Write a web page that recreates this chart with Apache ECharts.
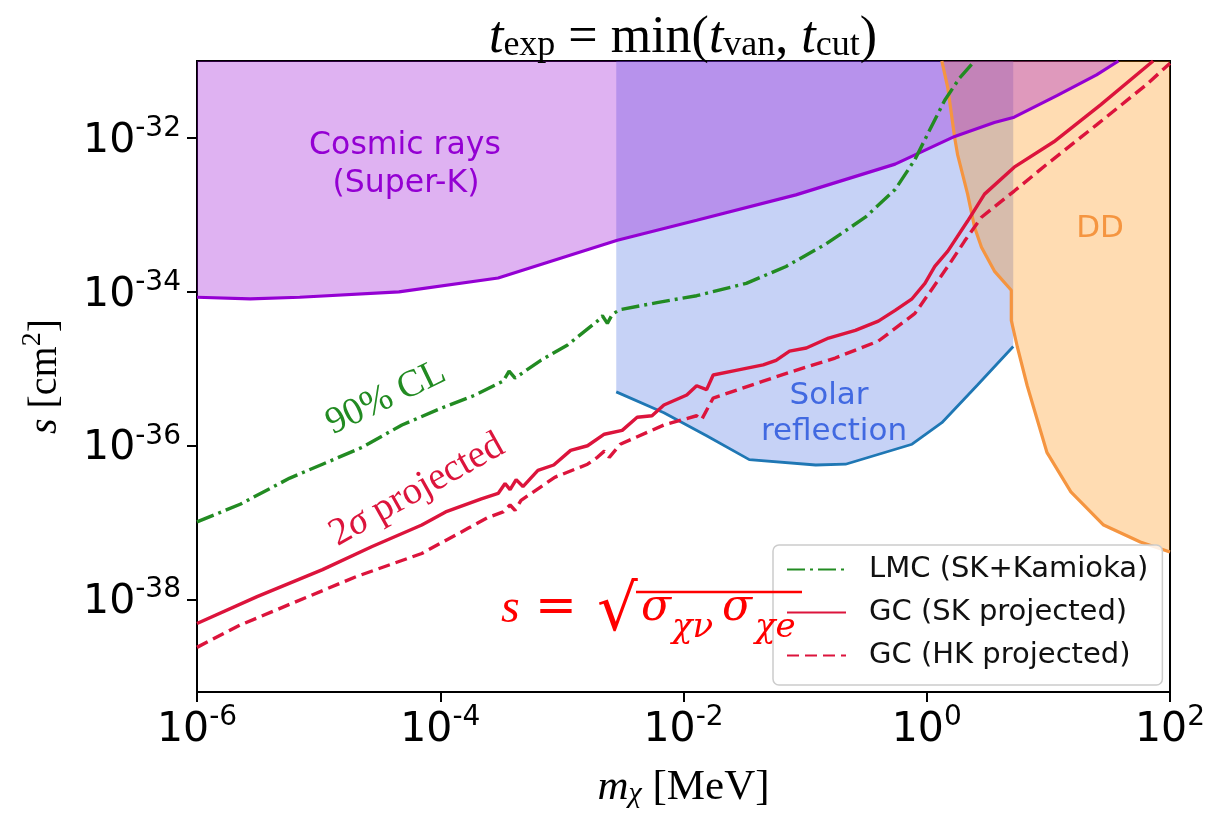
<!DOCTYPE html>
<html><head><meta charset="utf-8">
<script src="https://cdn.jsdelivr.net/npm/echarts@6/dist/echarts.min.js"></script>
<style>html,body{margin:0;padding:0;background:#fff}#c{width:1208px;height:814px}</style>
</head><body><div id="c"></div>
<script>
// All values are log10 exponents (m in MeV, s in cm^2)
const xTickExponents = [-6, -4, -2, 0, 2];
const yTickExponents = [-38, -36, -34, -32];
const xRangeExp = [-6, 2];
const yRangeExp = [-39.2, -31];

// Cosmic rays (Super-K) boundary
const cosmicLogM = [-6.0, -5.563, -5.156, -4.340, -3.524, -2.544, -1.892, -1.076, -0.260, 0.230, 0.556, 0.719, 1.070, 1.396, 1.576];
const cosmicLogS = [-34.07, -34.09, -34.07, -34.00, -33.82, -33.33, -33.07, -32.74, -32.34, -31.98, -31.80, -31.73, -31.45, -31.18, -31.00];

// Solar reflection lower boundary
const solarLogM = [-2.553, -2.161, -1.810, -1.459, -0.913, -0.668, -0.121, 0.124, 0.417, 0.711];
const solarLogS = [-35.30, -35.57, -35.87, -36.18, -36.25, -36.24, -35.98, -35.70, -35.21, -34.71];

// Direct detection (DD) boundary
const ddLogM = [0.124, 0.173, 0.230, 0.254, 0.336, 0.393, 0.450, 0.556, 0.695, 0.695, 0.744, 0.826, 0.989, 1.185, 1.454, 1.756, 2.0];
const ddLogS = [-31.0, -31.35, -32.00, -32.22, -32.73, -33.16, -33.42, -33.73, -33.98, -34.37, -34.71, -35.22, -36.09, -36.60, -37.03, -37.25, -37.38];

// LMC (SK+Kamioka), 90% CL
const lmcLogM = [-6.0, -5.645, -5.237, -4.968, -4.641, -4.315, -3.989, -3.711, -3.483, -3.434, -3.385, -3.173, -2.953, -2.708, -2.667, -2.626, -2.585, -2.520, -2.218, -1.892, -1.484, -1.157, -0.831, -0.505, -0.260, -0.097, 0.026, 0.148, 0.270, 0.393];
const lmcLogS = [-36.99, -36.76, -36.42, -36.24, -36.02, -35.73, -35.51, -35.34, -35.16, -35.03, -35.12, -34.89, -34.69, -34.38, -34.31, -34.41, -34.29, -34.23, -34.14, -34.05, -33.89, -33.67, -33.38, -33.03, -32.67, -32.28, -31.89, -31.51, -31.22, -31.00];

// GC (SK projected)
const gcSkLogM = [-6.0, -5.506, -4.968, -4.560, -4.152, -3.956, -3.662, -3.524, -3.467, -3.426, -3.376, -3.320, -3.197, -3.067, -2.928, -2.789, -2.651, -2.504, -2.381, -2.259, -2.161, -1.973, -1.892, -1.810, -1.756, -1.568, -1.345, -1.239, -1.128, -0.990, -0.807, -0.587, -0.398, -0.260, -0.121, -0.015, 0.066, 0.173, 0.336, 0.475, 0.719, 1.045, 1.429, 1.861];
const gcSkLogS = [-38.31, -37.96, -37.61, -37.31, -37.03, -36.86, -36.69, -36.62, -36.49, -36.57, -36.44, -36.53, -36.32, -36.25, -36.06, -36.00, -35.85, -35.80, -35.63, -35.61, -35.47, -35.34, -35.22, -35.27, -35.08, -35.02, -34.95, -34.89, -34.77, -34.73, -34.60, -34.50, -34.38, -34.24, -34.09, -33.89, -33.67, -33.47, -33.08, -32.73, -32.38, -32.05, -31.57, -31.0];

// GC (HK projected)
const gcHkLogM = [-6.0, -5.645, -5.237, -4.690, -4.152, -3.768, -3.605, -3.483, -3.426, -3.385, -3.336, -3.059, -2.789, -2.708, -2.651, -2.610, -2.520, -2.161, -1.892, -1.851, -1.756, -1.345, -1.076, -0.753, -0.398, -0.097, 0.173, 0.311, 0.450, 0.719, 0.989, 1.396, 1.804, 2.0];
const gcHkLogS = [-38.62, -38.33, -38.06, -37.70, -37.40, -37.07, -36.93, -36.86, -36.77, -36.84, -36.71, -36.41, -36.24, -36.15, -36.07, -36.15, -35.98, -35.73, -35.61, -35.66, -35.38, -35.16, -35.02, -34.86, -34.64, -34.28, -33.67, -33.34, -33.03, -32.69, -32.34, -31.83, -31.31, -31.03];

const seriesNames = ['LMC (SK+Kamioka)', 'GC (SK projected)', 'GC (HK projected)'];

// axes are log10(value) scales labelled as powers of ten
const pairs = (lm, ls) => lm.map((v, i) => [v, ls[i]]);
const cosmic = pairs(cosmicLogM, cosmicLogS);
const solar = pairs(solarLogM, solarLogS);
const dd = pairs(ddLogM, ddLogS);
const lmc = pairs(lmcLogM, lmcLogS);
const gcSk = pairs(gcSkLogM, gcSkLogS);
const gcHk = pairs(gcHkLogM, gcHkLogS);

const SANS = '"DejaVu Sans", sans-serif';
const SERIF = '"Liberation Serif", "DejaVu Serif", serif';
const DSERIF = '"DejaVu Serif", serif';
const RED = '#ff0000';

const tickRich = {
  b: { fontSize: 41, fontFamily: SANS, color: '#000', verticalAlign: 'bottom', lineHeight: 47 },
  s: { fontSize: 28, fontFamily: SANS, color: '#000', verticalAlign: 'top', lineHeight: 28 }
};
const tickFmt = v => '{b|10}{s|' + Math.round(v) + '}';

const chart = echarts.init(document.getElementById('c'), null, { renderer: 'canvas' });

const areaBase = { type: 'line', symbol: 'none', showSymbol: false, silent: true, lineStyle: { width: 0, opacity: 0 }, animation: false };
const lineBase = { type: 'line', symbol: 'none', showSymbol: false, silent: true, animation: false };

function mathText(x, y, text, size, italic, family) {
  return { type: 'text', x: x, y: y, z: 100, style: { text: text, fontFamily: family || SERIF, fontStyle: italic ? 'italic' : 'normal', fontSize: size, fill: RED, align: 'left', verticalAlign: 'middle' } };
}

chart.setOption({
  animation: false,
  backgroundColor: '#fff',
  grid: { left: 197, top: 61, right: 31, bottom: 117, show: true, borderColor: '#000', borderWidth: 2, backgroundColor: 'transparent' },
  xAxis: [{
    type: 'value', min: xRangeExp[0], max: xRangeExp[1], interval: 2,
    axisLine: { show: true, onZero: false, lineStyle: { color: '#000', width: 2 } },
    axisTick: { show: true, length: 10, lineStyle: { color: '#000', width: 2 }, customValues: xTickExponents },
    axisLabel: { customValues: xTickExponents, formatter: tickFmt, rich: tickRich, margin: 12 },
    splitLine: { show: false }, minorTick: { show: false },
    name: '{i|m}{sub|χ}{n| [MeV]}', nameLocation: 'middle', nameGap: 69,
    nameTextStyle: { rich: {
      i: { fontFamily: SERIF, fontStyle: 'italic', fontSize: 43, color: '#000', verticalAlign: 'bottom', lineHeight: 48 },
      sub: { fontFamily: SERIF, fontStyle: 'italic', fontSize: 30, color: '#000', verticalAlign: 'bottom', lineHeight: 30 },
      n: { fontFamily: SERIF, fontSize: 43, color: '#000', verticalAlign: 'bottom', lineHeight: 48 }
    } }
  }],
  yAxis: [{
    type: 'value', min: yRangeExp[0], max: yRangeExp[1],
    axisLine: { show: true, onZero: false, lineStyle: { color: '#000', width: 2 } },
    axisTick: { show: true, length: 10, lineStyle: { color: '#000', width: 2 }, customValues: yTickExponents },
    axisLabel: { customValues: yTickExponents, formatter: tickFmt, rich: tickRich, margin: 16 },
    splitLine: { show: false }, minorTick: { show: false },
    name: '{i|s}{n| [cm}{sup|2}{n|]}', nameLocation: 'middle', nameGap: 132, nameRotate: 90,
    nameTextStyle: { rich: {
      i: { fontFamily: SERIF, fontStyle: 'italic', fontSize: 40, color: '#000', verticalAlign: 'bottom', lineHeight: 46 },
      sup: { fontFamily: SERIF, fontSize: 28, color: '#000', verticalAlign: 'top', lineHeight: 28 },
      n: { fontFamily: SERIF, fontSize: 40, color: '#000', verticalAlign: 'bottom', lineHeight: 46 }
    } }
  }],
  legend: {
    data: seriesNames, orient: 'vertical', left: 773, top: 545,
    padding: [10, 14, 15, 13], itemWidth: 59, itemHeight: 14, itemGap: 14,
    borderColor: '#cccccc', borderWidth: 1.5, borderRadius: 6, backgroundColor: 'rgba(255,255,255,0.85)',
    itemStyle: { opacity: 0, borderWidth: 0 },
    textStyle: { fontFamily: SANS, fontSize: 29, color: '#111', padding: [0, 0, 0, 18] },
    selectedMode: false, z: 10
  },
  series: [
    Object.assign({}, areaBase, { name: 'solarArea', data: solar, z: 1, areaStyle: { origin: 'end', color: 'rgba(65,105,225,0.3)', opacity: 1 } }),
    Object.assign({}, areaBase, { name: 'ddArea', data: dd, z: 2, areaStyle: { origin: 'end', color: 'rgba(255,140,0,0.3)', opacity: 1 } }),
    Object.assign({}, areaBase, { name: 'cosmicArea', data: cosmic, z: 3, areaStyle: { origin: 'end', color: 'rgba(148,0,211,0.3)', opacity: 1 } }),
    Object.assign({}, lineBase, { name: 'solarLine', data: solar, z: 4, lineStyle: { color: '#1f77b4', width: 2.8 } }),
    Object.assign({}, lineBase, { name: 'ddLine', data: dd, z: 4, lineStyle: { color: '#f59540', width: 3.2 } }),
    Object.assign({}, lineBase, { name: 'cosmicLine', data: cosmic, z: 4, lineStyle: { color: '#9400d3', width: 3.2 } }),
    Object.assign({}, lineBase, { name: seriesNames[0], data: lmc, z: 5, itemStyle: { color: '#228b22' }, lineStyle: { color: '#228b22', width: 3.4, type: [18, 5, 3, 5] } }),
    Object.assign({}, lineBase, { name: seriesNames[1], data: gcSk, z: 5, itemStyle: { color: '#dc143c' }, lineStyle: { color: '#dc143c', width: 3.4 } }),
    Object.assign({}, lineBase, { name: seriesNames[2], data: gcHk, z: 5, itemStyle: { color: '#dc143c' }, lineStyle: { color: '#dc143c', width: 3.4, type: [12, 6] } })
  ],
  graphic: [
    { type: 'text', x: 683, y: 36, z: 50, style: {
      text: '{i|t}{sub|exp}{n| = min(}{i|t}{sub|van}{n|, }{i|t}{sub|cut}{n|)}',
      align: 'center', verticalAlign: 'middle',
      rich: {
        i: { fontFamily: SERIF, fontStyle: 'italic', fontSize: 52, fill: '#000', verticalAlign: 'bottom', lineHeight: 56 },
        sub: { fontFamily: SERIF, fontSize: 36, fill: '#000', verticalAlign: 'bottom', lineHeight: 34 },
        n: { fontFamily: SERIF, fontSize: 52, fill: '#000', verticalAlign: 'bottom', lineHeight: 56 }
      } } },
    { type: 'text', x: 405, y: 146, z: 50, style: { text: 'Cosmic rays', fontFamily: SANS, fontSize: 31.5, fill: '#9400d3', align: 'center', verticalAlign: 'middle' } },
    { type: 'text', x: 406, y: 184, z: 50, style: { text: '(Super-K)', fontFamily: SANS, fontSize: 31.5, fill: '#9400d3', align: 'center', verticalAlign: 'middle' } },
    { type: 'text', x: 829, y: 396, z: 50, style: { text: 'Solar', fontFamily: SANS, fontSize: 31, fill: '#4169e1', align: 'center', verticalAlign: 'middle' } },
    { type: 'text', x: 834, y: 432, z: 50, style: { text: 'reflection', fontFamily: SANS, fontSize: 31, fill: '#4169e1', align: 'center', verticalAlign: 'middle' } },
    { type: 'text', x: 1100, y: 229, z: 50, style: { text: 'DD', fontFamily: SANS, fontSize: 31, fill: '#f59540', align: 'center', verticalAlign: 'middle' } },
    { type: 'text', x: 386, y: 398, z: 50, rotation: 0.447, style: { text: '90% CL', fontFamily: SERIF, fontSize: 38, fill: '#228b22', align: 'center', verticalAlign: 'middle' } },
    { type: 'text', x: 417, y: 490, z: 50, rotation: 0.51, style: {
      text: '{n|2}{i|σ}{n| projected}', align: 'center', verticalAlign: 'middle',
      rich: {
        n: { fontFamily: SERIF, fontSize: 39, fill: '#dc143c' },
        i: { fontFamily: SERIF, fontStyle: 'italic', fontSize: 39, fill: '#dc143c' }
      } } },
    mathText(501, 609, 's', 48, true),
    mathText(535, 609, '=', 50, false, DSERIF),
    mathText(597, 613, '√', 64, false, DSERIF),
    mathText(641, 609, 'σ', 44, true, DSERIF),
    mathText(672, 628, 'χν', 34, true, DSERIF),
    mathText(722, 609, 'σ', 44, true, DSERIF),
    mathText(755, 628, 'χe', 34, true, DSERIF),
    { type: 'line', z: 100, shape: { x1: 636, y1: 592, x2: 802, y2: 592 }, style: { stroke: RED, lineWidth: 2.5 } }
  ]
});
</script>
</body></html>
